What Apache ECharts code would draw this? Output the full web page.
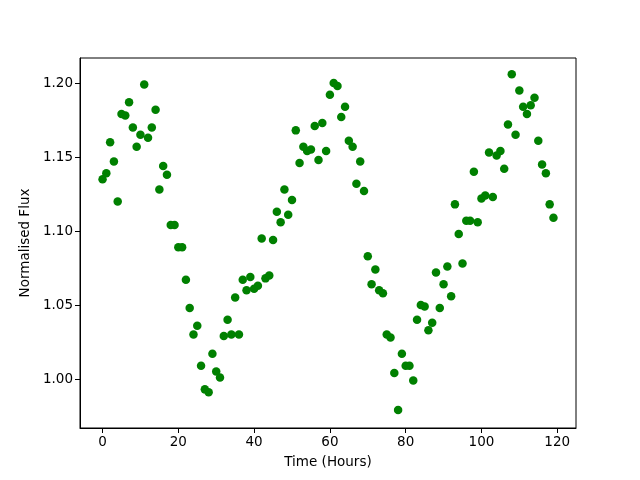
<!DOCTYPE html>
<html>
<head>
<meta charset="utf-8">
<script src="https://cdn.jsdelivr.net/npm/echarts@6/dist/echarts.min.js"></script>
<style>html,body{margin:0;padding:0;background:#fff}#c{width:640px;height:480px}</style>
</head>
<body>
<div id="c"></div>
<script>
const timeHours = [];
for (let i = 0; i < 120; i++) timeHours.push(i);
const flux = [
1.135,1.139,1.160,1.147,1.120,1.179,1.178,1.187,1.170,1.157,
1.165,1.199,1.163,1.170,1.182,1.128,1.144,1.138,1.104,1.104,
1.089,1.089,1.067,1.048,1.030,1.036,1.009,0.993,0.991,1.017,
1.005,1.001,1.029,1.040,1.030,1.055,1.030,1.067,1.060,1.069,
1.061,1.063,1.095,1.068,1.070,1.094,1.113,1.106,1.128,1.111,
1.121,1.168,1.146,1.157,1.154,1.155,1.171,1.148,1.173,1.154,
1.192,1.200,1.198,1.177,1.184,1.161,1.157,1.132,1.147,1.127,
1.083,1.064,1.074,1.060,1.058,1.030,1.028,1.004,0.979,1.017,
1.009,1.009,0.999,1.040,1.050,1.049,1.033,1.038,1.072,1.048,
1.064,1.076,1.056,1.118,1.098,1.078,1.107,1.107,1.140,1.106,
1.122,1.124,1.153,1.123,1.151,1.154,1.142,1.172,1.206,1.165,
1.195,1.184,1.179,1.185,1.190,1.161,1.145,1.139,1.118,1.109
];
const xTicks = [0, 20, 40, 60, 80, 100, 120];
const yTicks = [1.00, 1.05, 1.10, 1.15, 1.20];

const points = timeHours.map((t, i) => [t, flux[i]]);
const font = 'DejaVu Sans';
const chart = echarts.init(document.getElementById('c'), null, {renderer: 'canvas'});
chart.setOption({
  animation: false,
  backgroundColor: '#fff',
  grid: {left: 80, right: 64, top: 58, bottom: 52, show: true, borderColor: '#000', borderWidth: 1, backgroundColor: 'transparent'},
  xAxis: {
    type: 'value', min: -5.95, max: 124.95,
    name: 'Time (Hours)', nameLocation: 'middle', nameGap: 27,
    nameTextStyle: {fontFamily: font, fontSize: 13.5, color: '#000'},
    axisLine: {show: true, onZero: false, lineStyle: {color: '#000', width: 1}},
    axisTick: {show: true, length: 5, lineStyle: {color: '#000'}, customValues: xTicks},
    axisLabel: {customValues: xTicks, fontFamily: font, fontSize: 13.5, color: '#000', margin: 7},
    splitLine: {show: false}
  },
  yAxis: {
    type: 'value', min: 0.9669, max: 1.2169,
    name: 'Normalised Flux', nameLocation: 'middle', nameGap: 47,
    nameTextStyle: {fontFamily: font, fontSize: 13.5, color: '#000'},
    axisLine: {show: true, onZero: false, lineStyle: {color: '#000', width: 1}},
    axisTick: {show: true, length: 5, lineStyle: {color: '#000'}, customValues: yTicks},
    axisLabel: {customValues: yTicks, fontFamily: font, fontSize: 13.5, color: '#000', margin: 7,
      formatter: v => v.toFixed(2)},
    splitLine: {show: false}
  },
  series: [{
    type: 'scatter', data: points, symbol: 'circle', symbolSize: 8.5,
    itemStyle: {color: '#008000', opacity: 1}
  }]
});
</script>
</body>
</html>
